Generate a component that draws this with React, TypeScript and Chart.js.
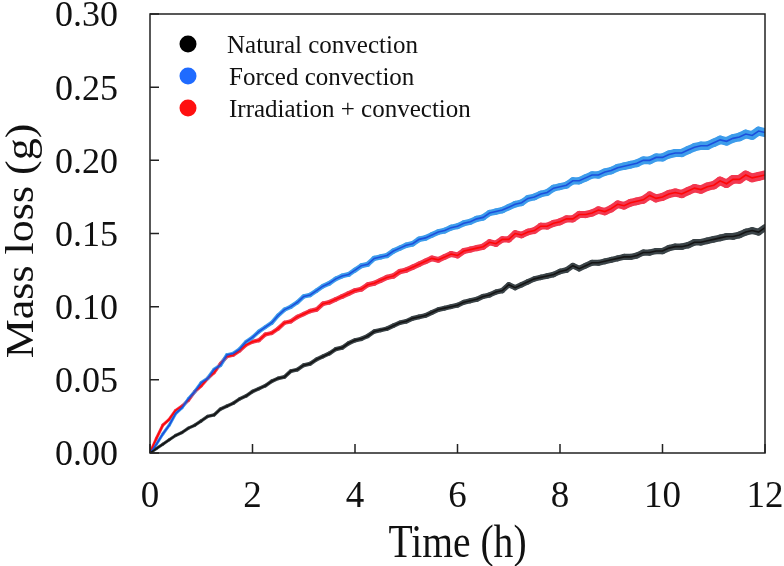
import React, { useEffect, useRef } from "react";
import { Chart, registerables } from "chart.js";

Chart.register(...registerables);

const TIME = [
  0, 0.125, 0.25, 0.375, 0.5, 0.625, 0.75, 0.875, 1, 1.125, 1.25, 1.375, 1.5, 1.625, 1.75, 1.875,
  2, 2.125, 2.25, 2.375, 2.5, 2.625, 2.75, 2.875, 3, 3.125, 3.25, 3.375, 3.5, 3.625, 3.75, 3.875,
  4, 4.125, 4.25, 4.375, 4.5, 4.625, 4.75, 4.875, 5, 5.125, 5.25, 5.375, 5.5, 5.625, 5.75, 5.875,
  6, 6.125, 6.25, 6.375, 6.5, 6.625, 6.75, 6.875, 7, 7.125, 7.25, 7.375, 7.5, 7.625, 7.75, 7.875,
  8, 8.125, 8.25, 8.375, 8.5, 8.625, 8.75, 8.875, 9, 9.125, 9.25, 9.375, 9.5, 9.625, 9.75, 9.875,
  10, 10.125, 10.25, 10.375, 10.5, 10.625, 10.75, 10.875, 11, 11.125, 11.25, 11.375, 11.5, 11.625, 11.75, 11.875,
  12,
];

const NATURAL = [
  0.000, 0.003, 0.006, 0.009, 0.012, 0.014, 0.017, 0.019, 0.022, 0.025, 0.026, 0.030, 0.032, 0.034, 0.037, 0.039,
  0.042, 0.044, 0.046, 0.049, 0.051, 0.052, 0.056, 0.057, 0.060, 0.061, 0.064, 0.066, 0.068, 0.071, 0.072, 0.075,
  0.077, 0.078, 0.080, 0.083, 0.084, 0.085, 0.087, 0.089, 0.090, 0.092, 0.093, 0.094, 0.096, 0.098, 0.099, 0.100,
  0.101, 0.103, 0.104, 0.105, 0.107, 0.108, 0.110, 0.111, 0.115, 0.113, 0.115, 0.117, 0.119, 0.120, 0.121, 0.122,
  0.124, 0.125, 0.128, 0.126, 0.128, 0.130, 0.130, 0.131, 0.132, 0.133, 0.134, 0.134, 0.135, 0.137, 0.137, 0.138,
  0.138, 0.140, 0.141, 0.141, 0.142, 0.144, 0.144, 0.145, 0.146, 0.147, 0.148, 0.148, 0.149, 0.151, 0.152, 0.151,
  0.154,
];

const FORCED = [
  0.000, 0.006, 0.013, 0.019, 0.027, 0.031, 0.037, 0.042, 0.048, 0.051, 0.057, 0.060, 0.067, 0.068, 0.071, 0.076,
  0.079, 0.083, 0.086, 0.089, 0.094, 0.098, 0.100, 0.103, 0.107, 0.108, 0.111, 0.114, 0.116, 0.119, 0.121, 0.122,
  0.125, 0.128, 0.129, 0.133, 0.134, 0.135, 0.138, 0.140, 0.142, 0.143, 0.146, 0.147, 0.149, 0.151, 0.152, 0.154,
  0.155, 0.157, 0.158, 0.160, 0.161, 0.164, 0.165, 0.166, 0.168, 0.170, 0.171, 0.174, 0.175, 0.177, 0.178, 0.181,
  0.182, 0.183, 0.186, 0.186, 0.188, 0.190, 0.190, 0.192, 0.193, 0.195, 0.196, 0.197, 0.198, 0.200, 0.200, 0.202,
  0.202, 0.204, 0.205, 0.205, 0.207, 0.209, 0.210, 0.210, 0.212, 0.214, 0.213, 0.215, 0.216, 0.218, 0.217, 0.220,
  0.219,
];

const IRRADIATION = [
  0.000, 0.010, 0.019, 0.023, 0.029, 0.032, 0.036, 0.042, 0.046, 0.051, 0.055, 0.061, 0.066, 0.067, 0.070, 0.074,
  0.076, 0.077, 0.081, 0.082, 0.085, 0.089, 0.090, 0.093, 0.095, 0.097, 0.098, 0.102, 0.103, 0.105, 0.107, 0.109,
  0.111, 0.112, 0.115, 0.116, 0.118, 0.120, 0.121, 0.124, 0.125, 0.127, 0.129, 0.131, 0.133, 0.132, 0.134, 0.136,
  0.135, 0.138, 0.139, 0.140, 0.141, 0.144, 0.143, 0.146, 0.146, 0.150, 0.149, 0.151, 0.152, 0.155, 0.155, 0.157,
  0.158, 0.160, 0.160, 0.163, 0.163, 0.164, 0.166, 0.165, 0.167, 0.170, 0.169, 0.171, 0.172, 0.173, 0.176, 0.174,
  0.175, 0.177, 0.178, 0.177, 0.179, 0.181, 0.180, 0.182, 0.183, 0.186, 0.184, 0.187, 0.187, 0.190, 0.188, 0.189,
  0.190,
];

const SERIES_NAMES = ["Natural convection", "Forced convection", "Irradiation + convection"];
const X_TICKS = [0, 2, 4, 6, 8, 10, 12];
const Y_TICKS = [0, 0.05, 0.1, 0.15, 0.2, 0.25, 0.3];
const X_TITLE = "Time (h)";
const Y_TITLE = "Mass loss (g)";

const LINE_COLORS = ["#141414", "#1c4fdc", "#ff0606"];
const BAND_COLORS = ["#3a4347", "#3d9ceb", "#f2384f"];
const BAND_WIDTH = [[3, 7], [3, 9], [3, 9]];
const LEGEND_COLORS = ["#000000", "#1f6bff", "#ff1010"];

const FONT = "'Liberation Serif', 'Times New Roman', serif";

export default function App() {
  const ref = useRef<HTMLCanvasElement | null>(null);

  useEffect(() => {
    document.body.style.margin = "0";
    const seriesValues = [NATURAL, FORCED, IRRADIATION];
    const toPts = (vals: number[]) => vals.map((v, i) => ({ x: TIME[i], y: v }));
    const n = TIME.length - 1;

    const datasets: any[] = [];
    seriesValues.forEach((vals, i) => {
      datasets.push({
        label: SERIES_NAMES[i],
        data: toPts(vals),
        borderColor: LINE_COLORS[i],
        borderWidth: 1.6,
        pointRadius: 0,
        tension: 0,
        order: 0,
      });
      const [w0, w1] = BAND_WIDTH[i];
      datasets.push({
        label: SERIES_NAMES[i] + " band",
        data: toPts(vals),
        borderColor: BAND_COLORS[i],
        borderWidth: w0,
        borderJoinStyle: "round",
        borderCapStyle: "round",
        segment: { borderWidth: (c: any) => w0 + (w1 - w0) * (c.p0DataIndex / n) },
        pointRadius: 0,
        tension: 0,
        order: 1,
      });
    });

    const framePlugin = {
      id: "frame",
      afterDraw(chart: any) {
        const { ctx, chartArea } = chart;
        const xs = chart.scales.x;
        const ys = chart.scales.y;
        ctx.save();
        ctx.strokeStyle = "#222";
        ctx.lineWidth = 1.5;
        ctx.strokeRect(chartArea.left, chartArea.top, chartArea.right - chartArea.left, chartArea.bottom - chartArea.top);
        const tl = 9;
        ctx.beginPath();
        X_TICKS.forEach((t) => {
          const px = xs.getPixelForValue(t);
          ctx.moveTo(px, chartArea.bottom);
          ctx.lineTo(px, chartArea.bottom - tl);
        });
        Y_TICKS.forEach((t) => {
          const py = ys.getPixelForValue(t);
          ctx.moveTo(chartArea.left, py);
          ctx.lineTo(chartArea.left + tl, py);
        });
        ctx.stroke();

        // legend
        const lx = 188;
        const ly = [44, 76, 108];
        SERIES_NAMES.forEach((name, i) => {
          ctx.fillStyle = LEGEND_COLORS[i];
          ctx.beginPath();
          ctx.arc(lx, ly[i], 8.5, 0, Math.PI * 2);
          ctx.fill();
          ctx.fillStyle = "#111";
          ctx.font = `25px ${FONT}`;
          ctx.textBaseline = "alphabetic";
          ctx.textAlign = "left";
          ctx.fillText(name, i === 0 ? 227 : 229, ly[i] + 9);
        });

        // x title
        ctx.fillStyle = "#111";
        ctx.textAlign = "center";
        ctx.textBaseline = "alphabetic";
        ctx.save();
        ctx.translate((chartArea.left + chartArea.right) / 2, 557);
        ctx.scale(0.86, 1);
        ctx.font = `46px ${FONT}`;
        ctx.fillText(X_TITLE, 0, 0);
        ctx.restore();
        // y title
        ctx.save();
        ctx.translate(33, 241);
        ctx.rotate(-Math.PI / 2);
        ctx.scale(1, 0.93);
        ctx.font = `44px ${FONT}`;
        ctx.fillText(Y_TITLE, 0, 0);
        ctx.restore();
        ctx.restore();
      },
    };

    const chart = new Chart(ref.current as HTMLCanvasElement, {
      type: "line",
      data: { datasets },
      options: {
        animation: false,
        responsive: true,
        maintainAspectRatio: false,
        layout: { padding: { top: 14, right: 19, left: 0, bottom: 0 } },
        plugins: { legend: { display: false }, tooltip: { enabled: false } },
        scales: {
          x: {
            type: "linear",
            min: 0,
            max: 12,
            grid: { display: false, drawTicks: false },
            border: { display: false },
            afterBuildTicks: (s: any) => { s.ticks = X_TICKS.map((v) => ({ value: v })); },
            ticks: { color: "#111", font: { family: FONT, size: 37 }, padding: 22, maxRotation: 0 },
            afterFit: (s: any) => { s.height = 113; s.paddingLeft = 0; s.paddingRight = 0; },
          },
          y: {
            type: "linear",
            min: 0,
            max: 0.3,
            grid: { display: false, drawTicks: false },
            border: { display: false },
            afterBuildTicks: (s: any) => { s.ticks = Y_TICKS.map((v) => ({ value: v })); },
            ticks: {
              color: "#111",
              font: { family: FONT, size: 36 },
              padding: 32,
              labelOffset: 3,
              callback: (v: any) => Number(v).toFixed(2),
            },
            afterFit: (s: any) => { s.width = 150; s.paddingTop = 0; s.paddingBottom = 0; },
          },
        },
      },
      plugins: [framePlugin],
    });
    return () => chart.destroy();
  }, []);

  return (
    <div style={{ position: "absolute", left: 0, top: 0, width: 784, height: 566, background: "#fff" }}>
      <canvas ref={ref} />
    </div>
  );
}
